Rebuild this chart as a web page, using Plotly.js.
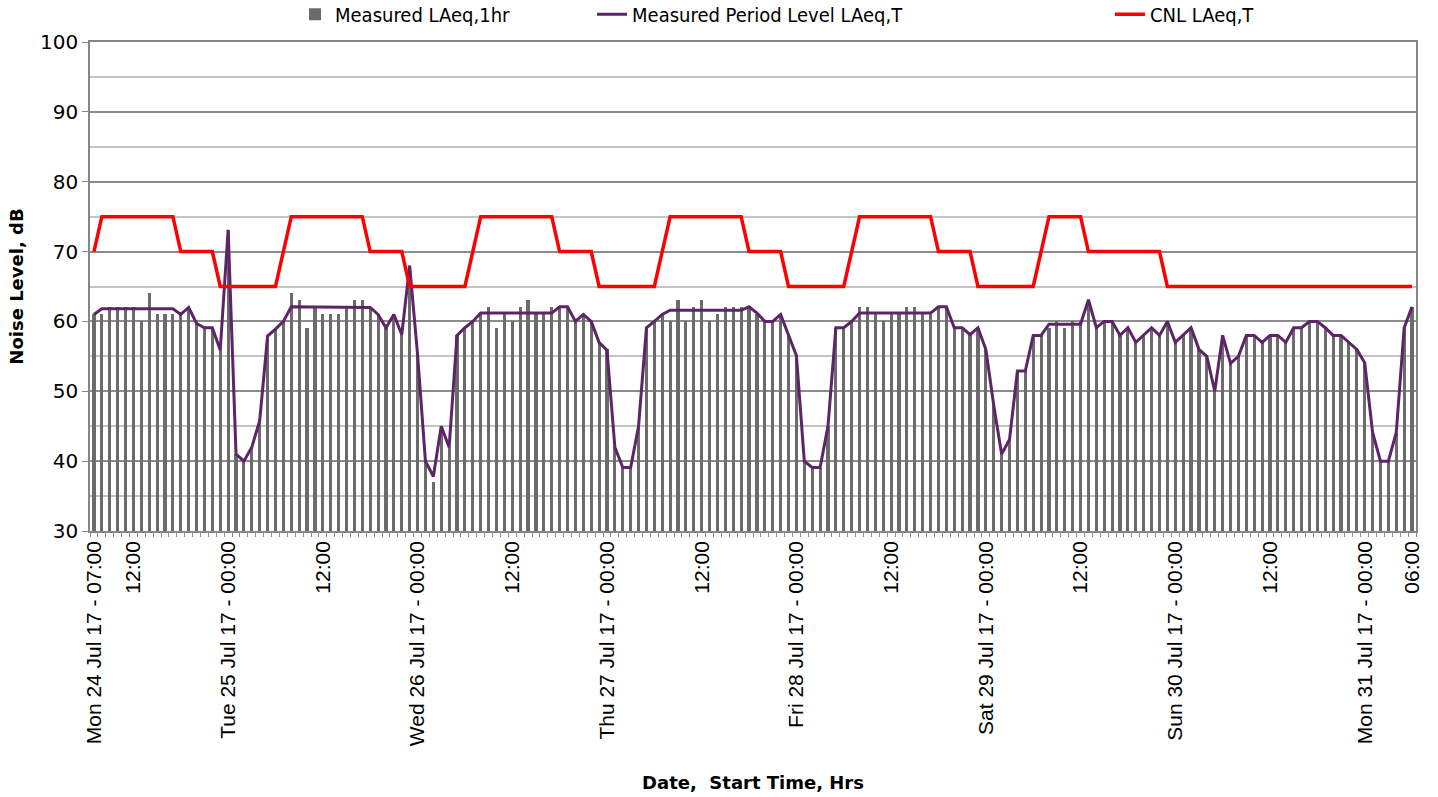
<!DOCTYPE html>
<html>
<head>
<meta charset="utf-8">
<script src="https://cdn.plot.ly/plotly-3.0.1.min.js"></script>
<style>
  html, body { margin: 0; padding: 0; background: #ffffff; }
  #chart { width: 1438px; height: 797px; }
</style>
</head>
<body>
<div id="chart"></div>
<script>
// Hour index 0 = Mon 24 Jul 17 07:00, one value per hour up to Mon 31 Jul 17 06:00
const hours = Array.from({length: 168}, (_, i) => i);

const measuredLAeq1hr = [
  61,61,62,62,62,62,60,64,61,61,61,61,62,60,59,59,56,73,41,40,42,46,58,59,
  60,64,63,59,62,61,61,61,62,63,63,62,61,59,61,58,68,55,40,37,45,42,58,59,
  60,61,62,59,61,60,62,63,61,61,62,62,62,60,61,60,57,56,42,39,39,45,59,60,
  61,60,63,60,62,63,60,61,62,62,62,62,61,60,60,61,58,55,40,39,39,45,59,59,
  60,62,62,61,60,61,61,62,62,61,61,62,62,59,59,58,59,56,48,41,43,53,53,58,
  58,59,60,59,60,60,63,59,60,60,58,59,57,58,59,58,60,57,58,59,56,55,50,58,
  54,55,58,58,57,58,58,57,59,59,60,60,59,58,58,57,56,54,44,40,40,44,59,62
];

const measuredPeriodLevel = [
  61,61.8,61.8,61.8,61.8,61.8,61.8,61.8,61.8,61.8,61.8,61,62,59.7,59.1,59.1,55.9,73.1,41,40,42,45.8,57.9,58.9,
  60,62.1,62.1,62.1,62.1,62.1,62.1,62.1,62.1,62.1,62.1,62,61,59.1,61,58.1,68,55.3,40,37.8,45,42,58,59.1,
  60,61.2,61.2,61.2,61.2,61.2,61.2,61.2,61.2,61.2,61.2,62.1,62.1,60,61,60,57,55.9,42,39.1,39.1,45,59.1,60,
  61,61.6,61.6,61.6,61.6,61.6,61.6,61.6,61.6,61.6,61.6,62.1,61.2,60,60,61,58.1,55.1,40,39.1,39.1,45,59.1,59.1,
  60,61.2,61.2,61.2,61.2,61.2,61.2,61.2,61.2,61.2,61.2,62.1,62.1,59.1,59.1,58.1,59.1,56,48,41,43.1,52.9,52.9,58,
  58,59.6,59.6,59.6,59.6,59.6,63.1,59.1,60,60,58,59.1,57,58,59.1,58,60,57,58,59.1,56,55,50,58,
  54,55,58,58,57,58,58,57,59.1,59.1,60,60,59.1,58,58,57,56,54.1,44.1,40,40,44.1,59.1,62.1
];

const cnlLAeqT = [
  70,75,75,75,75,75,75,75,75,75,75,70,70,70,70,70,65,65,65,65,65,65,65,65,
  70,75,75,75,75,75,75,75,75,75,75,70,70,70,70,70,65,65,65,65,65,65,65,65,
  70,75,75,75,75,75,75,75,75,75,75,70,70,70,70,70,65,65,65,65,65,65,65,65,
  70,75,75,75,75,75,75,75,75,75,75,70,70,70,70,70,65,65,65,65,65,65,65,65,
  70,75,75,75,75,75,75,75,75,75,75,70,70,70,70,70,65,65,65,65,65,65,65,65,
  70,75,75,75,75,75,70,70,70,70,70,70,70,70,70,70,65,65,65,65,65,65,65,65,
  65,65,65,65,65,65,65,65,65,65,65,65,65,65,65,65,65,65,65,65,65,65,65,65
];

const tickHours = [0,5,17,29,41,53,65,77,89,101,113,125,137,149,161,167];
const tickLabels = [
  "Mon 24 Jul 17 - 07:00","12:00","Tue 25 Jul 17 - 00:00","12:00",
  "Wed 26 Jul 17 - 00:00","12:00","Thu 27 Jul 17 - 00:00","12:00",
  "Fri 28 Jul 17 - 00:00","12:00","Sat 29 Jul 17 - 00:00","12:00",
  "Sun 30 Jul 17 - 00:00","12:00","Mon 31 Jul 17 - 00:00","06:00"
];

const traces = [
  {
    type: "bar", x: hours, y: measuredLAeq1hr, name: "Measured LAeq,1hr",
    marker: {color: "#6b6b6b", line: {width: 0}}, width: 0.4, legend: "legend"
  },
  {
    type: "scatter", mode: "lines", x: hours, y: measuredPeriodLevel,
    name: "Measured Period Level LAeq,T",
    line: {color: "#5e2468", width: 3}, legend: "legend2"
  },
  {
    type: "scatter", mode: "lines", x: hours, y: cnlLAeqT, name: "CNL LAeq,T",
    line: {color: "#ff0000", width: 3.5}, legend: "legend3"
  }
];

const legFont = {family: "DejaVu Sans Condensed, DejaVu Sans, sans-serif", size: 20, color: "#000"};
const legBase = {orientation: "h", yanchor: "middle", y: 1.057, xanchor: "left",
  font: legFont, bgcolor: "rgba(0,0,0,0)", itemwidth: 30, tracegroupgap: 0};

const layout = {
  width: 1438, height: 797,
  margin: {l: 90, r: 22, t: 42, b: 266, autoexpand: false},
  paper_bgcolor: "#ffffff", plot_bgcolor: "#ffffff",
  showlegend: true,
  legend: Object.assign({}, legBase, {x: 0.1546}),
  legend2: Object.assign({}, legBase, {x: 0.3786}),
  legend3: Object.assign({}, legBase, {x: 0.7692}),
  bargap: 0,
  xaxis: {
    range: [-0.5, 167.5],
    tickmode: "array", tickvals: tickHours, ticktext: tickLabels,
    tickangle: -90, ticks: "",
    tickfont: {family: "Liberation Sans, Arial, sans-serif", size: 21, color: "#000"},
    showgrid: false, zeroline: false,
    showline: true, linecolor: "#868686", linewidth: 1.5, mirror: true,
    minor: {tickmode: "linear", tick0: -0.5, dtick: 1, ticks: "outside", ticklen: 4, tickcolor: "#868686", showgrid: false},
    title: {text: "Date,  Start Time, Hrs", font: {family: "DejaVu Sans, sans-serif", size: 18, color: "#000", weight: "bold"}, standoff: 31}
  },
  yaxis: {
    range: [30, 100], dtick: 10, tick0: 30,
    ticks: "outside", ticklen: 6, tickcolor: "#868686",
    tickfont: {family: "DejaVu Sans, sans-serif", size: 20, color: "#000"},
    showgrid: true, gridcolor: "#8c8c8c", gridwidth: 1.5,
    minor: {dtick: 5, showgrid: true, gridcolor: "#c4c4c4", gridwidth: 1.5},
    zeroline: false, showline: true, linecolor: "#868686", linewidth: 1.5, mirror: true,
    title: {text: "Noise Level, dB", font: {family: "DejaVu Sans, sans-serif", size: 18, color: "#000", weight: "bold"}, standoff: 12}
  }
};

Plotly.newPlot("chart", traces, layout, {displayModeBar: false, responsive: false});
</script>
</body>
</html>
